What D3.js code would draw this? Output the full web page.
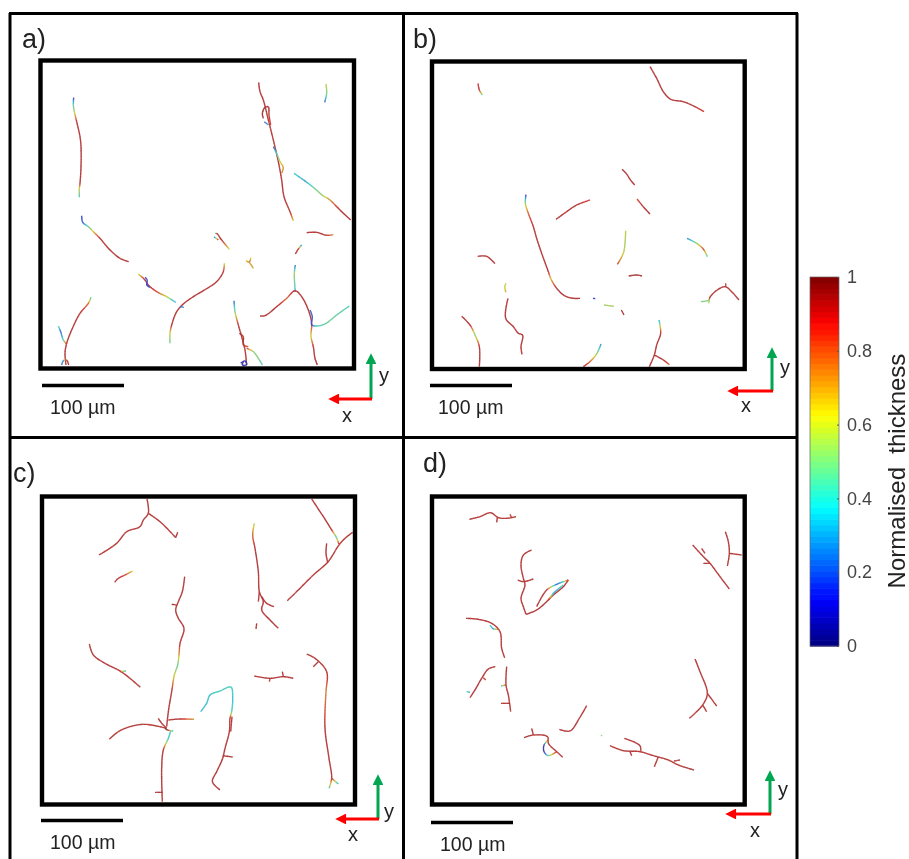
<!DOCTYPE html>
<html><head><meta charset="utf-8">
<style>html,body{margin:0;padding:0;background:#fff}svg{display:block}text{font-family:"Liberation Sans",Arial,sans-serif}</style>
<script src="https://cdn.jsdelivr.net/npm/d3@7"></script></head><body>
<svg id="c" width="909" height="859"></svg>
<script>
// Traced fractures: each is a list of [x, y, thickness] in image units; thickness defaults to T.
const T = 0.93;
const panelA = [
 [[131,143,.12],[130,165,.45],[133,185,.55],[140,215],[150,260],[153,290],[153,350],[150,400],[148,415,.6],[148,442,.4]],
 [[155,497,.15],[158,517,.2],[175,530,.45],[190,545,.65],[210,565],[240,600],[270,625],[296,635]],
 [[325,672,.6],[345,690],[355,705],[380,725,.85],[410,740,.6],[437,757,.3]],
 [[345,682,.15],[352,690,.2],[350,705,.1],[360,712,.2]],
 [[583,640,.6],[580,665],[560,695],[520,722],[490,740],[460,762],[440,785],[425,825],[420,850,.6],[420,880,.45]],
 [[450,770,.2],[462,772,.3]],
 [[183,742,.4],[175,760,.8],[150,790],[125,840],[110,880],[105,910],[108,945]],
 [[85,828,.45],[92,845,.2],[100,870,.4],[110,882]],
 [[95,945,.2],[100,932,.3],[110,930],[116,945]],
 [[686,97],[690,125],[700,150],[715,210],[730,270],[745,335],[755,390],[762,440],[780,485],[790,512,.65]],
 [[700,205,.97],[697,190,.97],[705,172,.97],[715,170],[717,195],[722,225,.85]],
 [[703,215,.2],[715,225,.3]],
 [[730,290,.2],[742,315,.45],[750,335,.6],[760,352,.7],[755,370,.75]],
 [[888,102,.6],[890,130,.5],[884,157,.2]],
 [[792,370,.4],[825,393,.3],[850,412,.45],[880,438,.55],[895,446,.7],[930,480],[962,510]],
 [[830,548],[860,547],[890,556],[910,554,.7]],
 [[815,585,.2],[805,597],[796,612]],
 [[555,550,.15],[560,550],[575,570],[598,598,.6]],
 [[552,560,.2],[565,570]],
 [[662,623,.6],[658,637,.8],[648,632,.6]],
 [[658,637,.7],[670,655,.7]],
 [[796,645,.2],[793,670,.55],[795,715,.4],[796,725,.2]],
 [[690,798],[705,797],[740,770],[770,745,.8],[795,722],[815,740],[835,780],[845,820],[843,860,.6],[850,890],[855,925],[862,945]],
 [[840,780,.2],[847,800,.2],[845,825,.15],[860,828,.4],[885,822,.45],[920,795,.45],[958,768,.4]],
 [[612,752,.2],[615,785,.5],[625,825],[635,860],[645,900],[650,945]],
 [[650,895,.85],[670,905,.5],[685,925,.5],[697,945,.4]],
 [[628,850],[640,860],[640,885],[655,890,.8]],
 [[632,940,.05],[645,932,.1],[650,945,.05],[636,945,.1],[640,936,.05]]
];
const panelB = [
 [[174,100,.85],[178,120],[187,135,.4]],
 [[690,50],[710,85],[730,125],[752,148],[790,155],[825,170],[852,185,.85]],
 [[606,358],[620,372],[630,388],[644,405]],
 [[651,447,.85],[668,468],[690,492]],
 [[318,434,.1],[316,460,.55],[325,490,.8],[340,530],[350,565],[365,610],[385,665],[392,685,.65],[410,715],[435,738],[460,745],[480,745]],
 [[408,508],[440,485],[470,465],[510,450,.85]],
 [[617,542,.6],[615,580,.55],[610,610,.6],[592,643,.85]],
 [[173,619],[200,619],[225,641]],
 [[801,565,.25],[830,580,.5],[850,597,.85],[862,620,.4]],
 [[626,678],[650,675,.97],[666,678]],
 [[258,700,.6],[254,712,.6],[258,727,.7]],
 [[264,745],[257,805],[280,830],[295,850],[308,855],[303,890],[306,913]],
 [[125,799],[150,825],[165,855,.5],[178,890],[178,950]],
 [[519,745,.1],[526,746,.2]],
 [[552,765,.55],[582,769,.55]],
 [[604,780],[612,795]],
 [[843,755,.5],[868,750,.5],[868,745],[885,725],[915,710],[935,725],[957,750]],
 [[917,700],[917,710]],
 [[868,750,.5],[866,760,.6]],
 [[717,810,.3],[722,850],[710,885],[703,915],[688,950]],
 [[703,915],[730,930],[748,944,.8]],
 [[543,882,.25],[530,912,.55],[510,935,.8],[490,950]]
];
const panelC = [
 [[351,42],[355,85],[340,105],[330,125],[290,140],[260,175],[207,210]],
 [[355,85],[390,110],[425,145],[437,158]],
 [[437,158],[443,142]],
 [[845,42],[880,95],[905,135],[918,155,.4],[927,178]],
 [[968,142],[945,160],[927,180],[905,215],[893,232],[850,270],[810,310],[772,347]],
 [[893,232],[888,205],[890,175]],
 [[308,258,.6],[285,270,.85],[265,280],[254,292]],
 [[673,115,.55],[668,150,.8],[675,190],[685,260],[688,320],[700,350],[695,375],[720,405],[745,430]],
 [[688,320],[685,350]],
 [[695,335],[710,355],[732,365]],
 [[680,415],[678,432]],
 [[464,275],[457,320],[445,350],[437,375],[445,400],[462,430],[450,475],[447,510,.7],[443,540,.45],[433,570,.6],[425,620],[415,680],[410,725]],
 [[425,358],[440,360]],
 [[178,477],[190,510],[225,535],[270,558],[300,580],[331,607]],
 [[270,560],[288,558,.3]],
 [[422,738,.4],[415,760,.35],[400,795],[395,850],[397,950]],
 [[375,922],[398,922]],
 [[238,763],[265,740],[300,725],[345,718],[410,730]],
 [[385,700],[395,715],[410,730]],
 [[415,705],[450,702],[492,703,.7]],
 [[405,730,1],[412,735,1],[430,738,.3]],
 [[512,680,.35],[530,655,.35],[540,630,.35],[570,618,.4],[603,606,.4],[608,640,.35],[605,680,.4],[600,700],[598,740],[585,790],[578,820],[560,860],[547,890],[570,915]],
 [[578,812],[608,816]],
 [[606,695],[602,740]],
 [[673,573],[720,580],[760,575],[790,580]],
 [[720,580],[718,590]],
 [[757,560],[760,575]],
 [[830,507],[855,520],[885,550],[892,570],[888,620,.75],[885,730],[897,820],[905,880],[897,910,.4]],
 [[905,880],[925,897,.3]],
 [[865,530],[850,545]]
];
const panelD = [
 [[148,103],[180,95],[212,83],[235,98],[260,100],[288,95]],
 [[232,98],[230,112]],
 [[270,88],[275,98]],
 [[335,195],[310,210],[303,240],[310,280],[315,300],[303,340],[310,365],[318,388]],
 [[293,285],[310,290],[340,282]],
 [[318,388],[350,375],[380,350],[400,330],[430,305],[445,285]],
 [[350,365],[380,315],[410,298,.2],[430,290,.4],[445,285]],
 [[385,345],[400,325,.3],[430,300,.4]],
 [[818,180],[850,215],[870,235],[900,275],[928,312]],
 [[845,190],[855,205]],
 [[850,235],[870,235]],
 [[916,140],[925,170],[928,205],[922,243]],
 [[928,205],[965,210]],
 [[138,400],[175,403],[215,415],[240,440],[245,490],[254,518]],
 [[210,420,.4],[220,432,.3],[235,432]],
 [[226,545],[205,552],[185,580],[165,615],[150,638]],
 [[140,620,.4],[150,622,.3]],
 [[190,578],[197,585]],
 [[260,545],[258,600],[265,630],[272,680]],
 [[243,603,.3],[258,600]],
 [[243,655],[268,655]],
 [[825,522],[840,560],[862,625],[848,660],[808,700]],
 [[862,625],[890,663]],
 [[848,660],[860,680]],
 [[500,662],[478,700],[450,738],[418,733]],
 [[312,758],[340,750],[383,755],[385,775],[410,800],[428,817]],
 [[335,730],[340,750]],
 [[385,765],[372,780,.08],[372,800,.05],[385,812,.45],[410,800]],
 [[570,782],[610,797],[660,800],[700,812],[745,825],[775,840],[822,855]],
 [[613,760],[660,782],[662,800]],
 [[630,800],[635,812]],
 [[715,815],[703,845]],
 [[762,828],[780,825]],
 [[543,750,.5],[546,753,.5]]
];
const panelLabels = ["a)","b)","c)","d)"];
const scaleLabel = "100 µm";
const axisX = "x", axisY = "y";
const legendTitle = "Normalised  thickness";
const legendTicks = [0,0.2,0.4,0.6,0.8,1];
const jetStops = [0,0.125,0.375,0.625,0.875,1];
const jetColors = ["#00007f","#0000ff","#00ffff","#ffff00","#ff0000","#7f0000"];

const layout = [
 {data:panelA, crop:[30,50], frame:[40.5,60.5,354,368.5], label:[22,48], bar:[42,124,385.5], text:[50,414], o:[371,399], up:355, left:329, yL:[379,382], xL:[347,422]},
 {data:panelB, crop:[420,50], frame:[432,61.5,744.7,369], label:[413,48], bar:[430,512,385.5], text:[438,414], o:[772,391], up:349, left:728, yL:[780,374], xL:[746,412]},
 {data:panelC, crop:[30,485], frame:[42,496.5,355,804.5], label:[13,482], bar:[41,123,820.5], text:[50,849], o:[378,819], up:776, left:336, yL:[384,818], xL:[353,841]},
 {data:panelD, crop:[420,485], frame:[432,496.5,744.7,804.5], label:[423,472], bar:[431,513,822.5], text:[440,851], o:[770,814], up:772, left:726, yL:[778,796], xL:[755,837]}
];

const svg = d3.select("#c");
const defs = svg.append("defs");
defs.append("filter").attr("id","soft").attr("x","-5%").attr("y","-5%").attr("width","110%").attr("height","110%")
  .append("feGaussianBlur").attr("stdDeviation",0.42);
[["ag","#00a651"],["ar","#ff0000"]].forEach(([id,c])=>{
  defs.append("marker").attr("id",id).attr("viewBox","0 0 10 10").attr("refX",1).attr("refY",5)
    .attr("markerWidth",4).attr("markerHeight",3.6).attr("orient","auto").attr("markerUnits","strokeWidth")
    .append("path").attr("d","M0,0L10,5L0,10Z").attr("fill",c);
});
const root = svg.append("g").attr("filter","url(#soft)");
const jet = d3.scaleLinear().domain(jetStops).range(jetColors).clamp(true);
const muted = t => d3.interpolateRgb(jet(t), "#9a8a88")(0.42);

// outer grid
const grid = root.append("g").attr("stroke","#000").attr("stroke-width",3).attr("fill","none");
[[10,13,10,859],[403.5,13,403.5,859],[797,13,797,859],[9,13.5,798,13.5],[9,437.5,798,437.5]].forEach(l=>{
  grid.append("line").attr("x1",l[0]).attr("y1",l[1]).attr("x2",l[2]).attr("y2",l[3]);
});

function traceSegments(path, x, y){
  const pts = path.map(d=>[x(d[0]),y(d[1]),d[2]??T]);
  const curve = d3.line().curve(d3.curveCatmullRom.alpha(0.5))(pts.map(d=>[d[0],d[1]]));
  const el = document.createElementNS("http://www.w3.org/2000/svg","path");
  el.setAttribute("d",curve);
  const total = el.getTotalLength();
  const cum=[0];
  for(let k=1;k<pts.length;k++) cum.push(cum[k-1]+Math.hypot(pts[k][0]-pts[k-1][0],pts[k][1]-pts[k-1][1]));
  const thick = d3.scaleLinear().domain(cum.map(c=>c/cum[cum.length-1])).range(pts.map(d=>d[2]));
  const n = Math.max(2,Math.ceil(total/1.5));
  const out=[];
  for(let i=0;i<n;i++){
    const a=el.getPointAtLength(total*i/n), b=el.getPointAtLength(total*Math.min(1,(i+1.2)/n));
    out.push({a:[a.x,a.y],b:[b.x,b.y],t:thick((i+.5)/n)});
  }
  return out;
}

layout.forEach((p,i)=>{
  const g = root.append("g");
  const x = d3.scaleLinear().domain([0,1005]).range([p.crop[0],p.crop[0]+335]);
  const y = d3.scaleLinear().domain([0,990]).range([p.crop[1],p.crop[1]+330]);
  const line = d3.line();
  const segs = p.data.flatMap(path=>traceSegments(path,x,y));
  g.append("g").attr("fill","none")
   .selectAll("path").data(segs).join("path")
   .attr("d",d=>line([d.a,d.b])).attr("stroke",d=>muted(d.t)).attr("stroke-width",1.35);
  const f=p.frame;
  g.append("rect").attr("x",f[0]).attr("y",f[1]).attr("width",f[2]-f[0]).attr("height",f[3]-f[1])
   .attr("fill","none").attr("stroke","#000").attr("stroke-width",4.4);
  g.append("text").attr("x",p.label[0]).attr("y",p.label[1]).attr("font-size",27).attr("fill","#222").text(panelLabels[i]);
  g.append("line").attr("x1",p.bar[0]).attr("x2",p.bar[1]).attr("y1",p.bar[2]).attr("y2",p.bar[2]).attr("stroke","#000").attr("stroke-width",3.6);
  g.append("text").attr("x",p.text[0]).attr("y",p.text[1]).attr("font-size",19.5).attr("fill","#222").text(scaleLabel);
  g.append("line").attr("x1",p.o[0]).attr("x2",p.o[0]).attr("y1",p.o[1]).attr("y2",p.up+8).attr("stroke","#00a651").attr("stroke-width",3).attr("marker-end","url(#ag)");
  g.append("line").attr("x1",p.o[0]+1).attr("x2",p.left+9).attr("y1",p.o[1]).attr("y2",p.o[1]).attr("stroke","#ff0000").attr("stroke-width",3).attr("marker-end","url(#ar)");
  g.append("text").attr("x",p.yL[0]).attr("y",p.yL[1]).attr("font-size",20).attr("fill","#222").text(axisY);
  g.append("text").attr("x",p.xL[0]).attr("y",p.xL[1]).attr("font-size",20).attr("fill","#222").attr("text-anchor","middle").text(axisX);
});

// colour bar
const cb = root.append("g");
const cy = d3.scaleLinear().domain([0,1]).range([646,277]);
const bands = d3.range(64);
cb.selectAll("rect.b").data(bands).join("rect").attr("class","b")
  .attr("x",810).attr("width",29)
  .attr("y",d=>cy((d+1)/64)).attr("height",d=>cy(d/64)-cy((d+1)/64)+0.6)
  .attr("fill",d=>jet((d+0.5)/64));
cb.append("rect").attr("x",810).attr("y",277).attr("width",29).attr("height",369).attr("fill","none").attr("stroke","#666").attr("stroke-width",0.7);
const ax = cb.append("g").attr("transform","translate(839,0)").call(d3.axisRight(cy).tickValues(legendTicks).tickFormat(d3.format("~g")).tickSize(-2).tickPadding(8));
ax.select(".domain").remove();
ax.selectAll(".tick line").attr("stroke","#555");
ax.selectAll("text").attr("font-size",18).attr("fill","#444").style("font-family",'"Liberation Sans",Arial,sans-serif');
cb.append("text").attr("transform","translate(905,471) rotate(-90)").attr("text-anchor","middle").attr("font-size",24).attr("fill","#222").attr("xml:space","preserve").style("white-space","pre").text(legendTitle);
</script></body></html>
